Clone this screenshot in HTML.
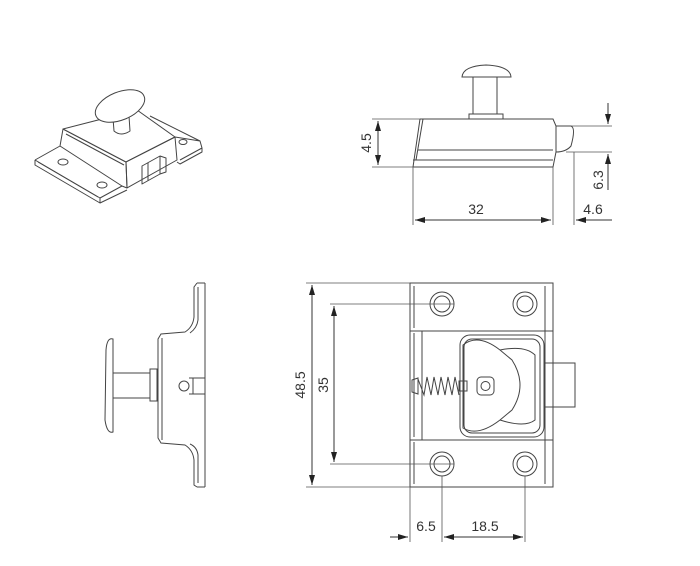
<!DOCTYPE html>
<html><head><style>html,body{margin:0;padding:0;background:#fff;width:700px;height:566px;overflow:hidden}</style></head>
<body>
<svg width="700" height="566" viewBox="0 0 700 566" xmlns="http://www.w3.org/2000/svg" font-family="Liberation Sans, sans-serif" fill="none" stroke="#333" stroke-width="1">
<defs>
<marker id="a" viewBox="0 0 10 6" refX="10" refY="3" markerWidth="10" markerHeight="6" orient="auto-start-reverse" markerUnits="userSpaceOnUse"><path d="M0,0L10,3L0,6z" fill="#222" stroke="none"/></marker>
</defs>

<!-- Isometric view -->
<g stroke="#444" stroke-linejoin="round">
<path d="M35,160 L60,146"/>
<path d="M35,160 L100,198 L122,186"/>
<path d="M35,160 L35,165 L100,203 L100,198 M100,203 L127,190"/>
<path d="M38,162 L98,197"/>
<path d="M60,146 L63,129 L126,162 L127,188 L122,186 L60,146"/>
<path d="M63,129 L137,110 L175,137 L126,162 Z" fill="#fff"/>
<path d="M66,134 L124,165"/>
<path d="M126,162 L175,137 L177,160 L127,188 Z"/>
<path d="M150,116 L200,141 L202,148 L180,160 M175,137 L200,141 M202,148 L202,152 L180,164 L177,162"/>
<path d="M142,166 L160,156 L160,174 L142,184 Z M148,163 L148,181 M160,156 L166,158 L166,172 L160,174"/>
<ellipse cx="63" cy="162" rx="5" ry="3"/>
<ellipse cx="102" cy="185" rx="5" ry="3"/>
<ellipse cx="183" cy="142" rx="4" ry="2.5"/>
<path d="M113,118 L114,131 Q121,137 130,131 L129,116"/>
<ellipse cx="120" cy="106" rx="26" ry="14" transform="rotate(-22 120 106)" fill="#fff"/>
</g>

<!-- Side view top right -->
<g stroke="#444">
<path d="M462,77 Q463,66 486,65 Q510,66 511,77 Z"/>
<path d="M473,77 L473,114 M497,77 L497,114"/>
<rect x="469" y="114" width="34" height="5"/>
<path d="M420,119 L553,119 L556,126 L556,152 L553,167 L413,167 L420,119"/>
<path d="M423,119 L416,160 M418,150 L553,150 M413,160 L553,160"/>
<path d="M556,126 L571,126 Q576,128 571,146 Q566,152 556,152"/>
</g>
<g stroke="#555" stroke-width="0.8">
<path d="M372,119 L420,119 M372,167 L413,167"/>
<path d="M413,167 L413,225 M553,167 L553,225 M574,152 L574,225"/>
<path d="M571,126 L612,126 M566,152 L612,152"/>
</g>
<path d="M378,121 L378,165" marker-start="url(#a)" marker-end="url(#a)"/>
<path d="M415,220 L551,220" marker-start="url(#a)" marker-end="url(#a)"/>
<path d="M608,103 L608,124" marker-end="url(#a)"/>
<path d="M608,190 L608,154" marker-end="url(#a)"/>
<path d="M612,220 L576,220" marker-end="url(#a)"/>
<g fill="#333" stroke="none" font-size="14">
<text x="476" y="214" text-anchor="middle">32</text>
<text x="593" y="214" text-anchor="middle">4.6</text>
<text transform="translate(371 143) rotate(-90)" text-anchor="middle">4.5</text>
<text transform="translate(603 180) rotate(-90)" text-anchor="middle">6.3</text>
</g>

<!-- Left side view -->
<g stroke="#444">
<path d="M205,283 L205,487 M197,283 L205,283 M197,487 L205,487"/>
<path d="M197,283 L194,287 L194,317 Q193,327 185,332 L161,334 L158,339 L158,438 L161,443 L185,445 Q193,450 194,460 L194,485 L197,487"/>
<path d="M198,287 L198,320 Q197,328 190,333 M198,483 L198,455 Q197,447 190,444"/>
<path d="M162,338 L162,440"/>
<rect x="150" y="369" width="7" height="32"/>
<path d="M113,373 L150,373 M113,398 L150,398"/>
<path d="M113,339 Q107,337 106,350 L105,420 Q107,434 113,432 Z"/>
<circle cx="184" cy="386" r="5"/>
<path d="M189,378 L205,378 M189,394 L205,394 M193,378 L193,394"/>
</g>

<!-- Plan view -->
<g stroke="#444">
<rect x="410" y="283" width="143" height="204"/>
<path d="M414,286 L414,328 M414,333 L414,437 M414,442 L414,484"/>
<path d="M410,331 L553,331 M410,440 L553,440 M422,331 L422,440 M545,286 L545,484"/>
<rect x="460" y="335" width="84" height="102" rx="10"/>
<rect x="464" y="339" width="76" height="94" rx="8"/>
<path d="M463,345 Q478,333 500,350 L512,360 Q528,385 512,410 L500,420 Q478,437 463,428 Z"/>
<path d="M500,350 Q525,345 535,355 L535,420 Q525,428 500,420"/>
<rect x="544" y="363" width="31" height="44"/>
<path d="M553,363 L553,407"/>
<rect x="477" y="377" width="17" height="18" rx="4"/>
<circle cx="485.5" cy="386" r="4.5"/>
<path d="M412,380 L418,378 L418,394 L412,392 Z"/>
<path d="M418,379 L424,395 L427,377 L431,395 L434,377 L438,395 L441,377 L445,395 L448,377 L452,395 L455,377 L459,395"/>
<rect x="459" y="381" width="8" height="10"/>
<circle cx="442" cy="304" r="12"/><circle cx="442" cy="304" r="8"/>
<circle cx="525" cy="304" r="12"/><circle cx="525" cy="304" r="8"/>
<circle cx="442" cy="464" r="12"/><circle cx="442" cy="464" r="8"/>
<circle cx="525" cy="464" r="12"/><circle cx="525" cy="464" r="8"/>
</g>
<g stroke="#555" stroke-width="0.8">
<path d="M306,283 L410,283 M306,487 L410,487 M330,304 L454,304 M330,464 L454,464"/>
<path d="M410,487 L410,542 M442,476 L442,542 M525,476 L525,542"/>
</g>
<path d="M312,285 L312,485" marker-start="url(#a)" marker-end="url(#a)"/>
<path d="M334,306 L334,462" marker-start="url(#a)" marker-end="url(#a)"/>
<path d="M390,537 L408,537" marker-end="url(#a)"/>
<path d="M444,537 L523,537" marker-start="url(#a)" marker-end="url(#a)"/>
<g fill="#333" stroke="none" font-size="14">
<text x="426" y="531" text-anchor="middle">6.5</text>
<text x="485" y="531" text-anchor="middle">18.5</text>
<text transform="translate(305 385) rotate(-90)" text-anchor="middle">48.5</text>
<text transform="translate(328 385) rotate(-90)" text-anchor="middle">35</text>
</g>
</svg>
</body></html>
